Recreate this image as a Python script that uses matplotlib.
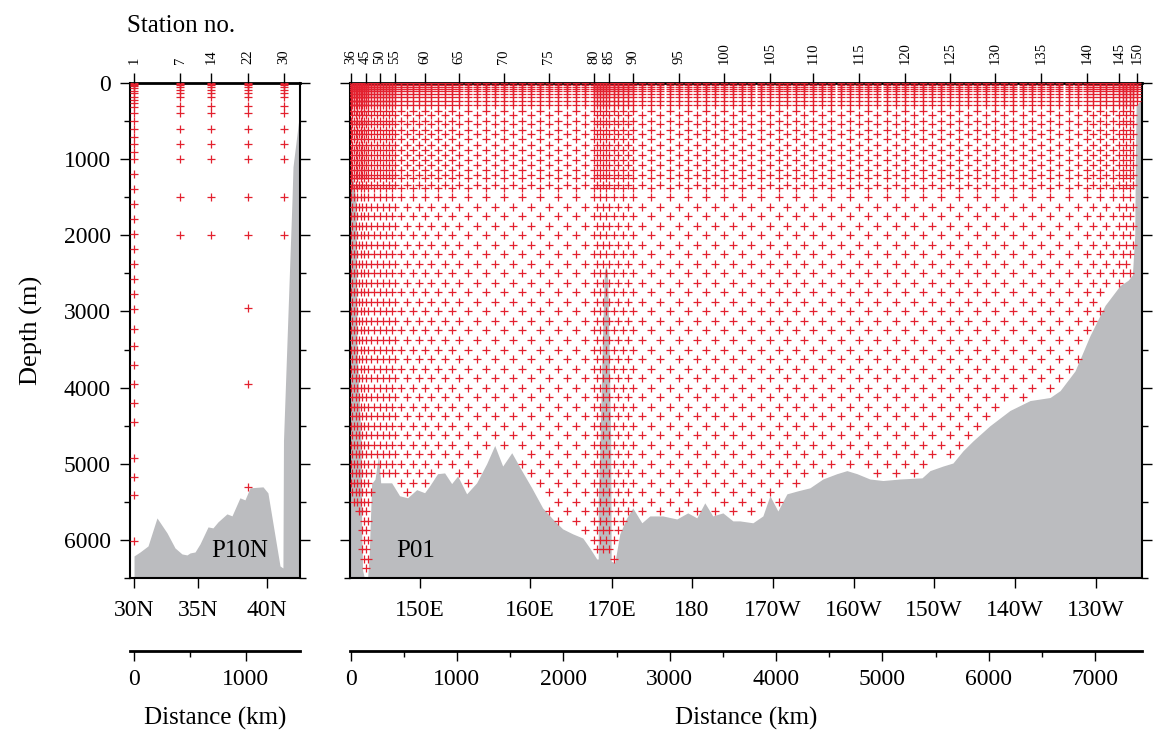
import numpy as np
import matplotlib
matplotlib.use("Agg")
from matplotlib import pyplot as plt
from matplotlib.ticker import MultipleLocator

plt.rcParams['font.family'] = ['Liberation Serif', 'DejaVu Serif']

GRAY = '#bbbcbf'
RED = '#e3212f'
MAX_DEPTH = 6500

# ---------------- P10N (left section) ----------------
p10n_station_no = [1, 7, 14, 22, 30]
p10n_station_km = [0, 411, 688, 1018, 1339]
p10n_lat_label = ['30N', '35N', '40N']
p10n_lat_km = [0, 571, 1188]

# bottle depths (m)
p10n_st1_m = [0, 10, 20, 40, 66, 105, 130, 184, 224, 263, 316, 395, 500, 605, 710, 800,
              910, 1000, 1200, 1390, 1592, 1789, 1987, 2184, 2382, 2578, 2776, 2974, 3224,
              3460, 3697, 3947, 4197, 4447, 4921, 5171, 5408, 6013]
p10n_upper_m = [0, 10, 25, 50, 90, 130, 184, 300, 395, 605, 800, 1000, 1500, 2000]
p10n_st22_deep_m = [2960, 3950, 5300]

p10n_bottom_km = [0, 54, 125, 205, 295, 366, 428, 473, 500, 545, 589, 661, 705, 750, 830,
                  875, 946, 991, 1036, 1152, 1196, 1304, 1330, 1335, 1411, 1420, 1470, 1482]
p10n_bottom_m = [6210, 6158, 6079, 5711, 5908, 6105, 6184, 6197, 6171, 6158, 6053, 5829,
                 5842, 5763, 5658, 5684, 5447, 5474, 5316, 5303, 5382, 6342, 6368, 4700,
                 1540, 1100, 500, 300]

# ---------------- P01 (right section) ----------------
p01_tick_no = [36, 45, 50, 55, 60, 65, 70, 75, 80, 85, 90, 95, 100, 105, 110, 115, 120,
               125, 130, 135, 140, 145, 150]
p01_tick_km = [0, 141, 273, 414, 696, 1016, 1439, 1863, 2286, 2427, 2653, 3086, 3509,
               3942, 4346, 4779, 5212, 5635, 6058, 6491, 6924, 7225, 7394]

# station positions, stations 36..150
p01_station_km = [
    0, 16, 31, 47, 63, 78, 94, 110, 125, 141,
    167, 194, 220, 247, 273,
    301, 330, 358, 386, 414,
    470, 527, 583, 640, 696,
    760, 824, 888, 952, 1016,
    1101, 1185, 1270, 1354, 1439,
    1524, 1609, 1693, 1778, 1863,
    1948, 2032, 2117, 2201, 2286,
    2314, 2342, 2371, 2399, 2427,
    2472, 2517, 2563, 2608, 2653,
    2740, 2826, 2913, 2999, 3086,
    3171, 3255, 3340, 3424, 3509,
    3596, 3682, 3769, 3855, 3942,
    4023, 4104, 4184, 4265, 4346,
    4433, 4519, 4606, 4692, 4779,
    4866, 4952, 5039, 5125, 5212,
    5297, 5381, 5466, 5550, 5635,
    5720, 5804, 5889, 5973, 6058,
    6145, 6231, 6318, 6404, 6491,
    6578, 6664, 6751, 6837, 6924,
    6984, 7044, 7105, 7165, 7225,
    7259, 7293, 7326, 7360, 7394,
]

# bottle depth sets, alternating between neighbouring stations
p01_levels_a = [0, 20, 50, 75, 110, 150, 190, 240, 290, 370, 500, 620, 740, 880, 1010,
                1145, 1250, 1380, 1500, 1750, 2000, 2250, 2500, 2750, 3000, 3250, 3500,
                3750, 4000, 4250, 4500, 4750, 5000, 5250, 5500, 5750, 6000, 6250]
p01_levels_b = [0, 20, 50, 75, 110, 150, 190, 240, 290, 420, 540, 670, 815, 950, 1080,
                1210, 1340, 1625, 1875, 2125, 2375, 2625, 2875, 3125, 3375, 3625, 3875,
                4125, 4375, 4625, 4875, 5125, 5375, 5625, 5875, 6125, 6375]

p01_bottom_km = [0, 60, 100, 113, 130, 160, 175, 198, 230, 245, 263, 283, 301, 386, 461,
                 536, 621, 696, 743, 818, 884, 950, 1007, 1091, 1185, 1279, 1355, 1430,
                 1515, 1609, 1703, 1806, 1900, 1994, 2088, 2183, 2248, 2314, 2400, 2484,
                 2531, 2596, 2653, 2738, 2813, 2935, 3067, 3170, 3255, 3330, 3405, 3500,
                 3594, 3659, 3782, 3876, 3942, 4017, 4102, 4205, 4318, 4440, 4572, 4666,
                 4760, 4882, 5005, 5165, 5372, 5447, 5569, 5663, 5757, 5851, 6011, 6199,
                 6388, 6576, 6670, 6811, 6952, 7093, 7234, 7310, 7350, 7372, 7378, 7385,
                 7441]
p01_bottom_m = [5500, 5700, 5800, 6400, 6500, 6500, 6200, 5260, 5200, 5050, 4890, 5250,
                5250, 5250, 5420, 5447, 5340, 5380, 5290, 5130, 5120, 5260, 5160, 5395,
                5250, 5000, 4760, 5030, 4855, 5090, 5316, 5580, 5725, 5855, 5920, 5975,
                6105, 6250, 6250, 6300, 5920, 5710, 5580, 5775, 5685, 5685, 5725, 5645,
                5710, 5513, 5685, 5645, 5750, 5750, 5775, 5685, 5420, 5620, 5395, 5355,
                5316, 5200, 5130, 5090, 5130, 5200, 5220, 5200, 5185, 5090, 5030, 4990,
                4830, 4700, 4500, 4300, 4170, 4130, 4040, 3780, 3315, 2920, 2660, 2590,
                2520, 2000, 1000, 300, 200]

# narrow seamount near 170E and the steep western wall
p01_ridge_km = [2333, 2333, 2350, 2370, 2390, 2405, 2420, 2436, 2450, 2455]
p01_ridge_m = [6500, 5500, 4700, 3500, 2500, 2400, 2500, 3500, 4700, 6500]
p01_wall_km = [0, 20, 56, 66, 103, 108, 112, 0]
p01_wall_m = [1000, 1200, 1550, 3500, 4700, 5600, 6500, 6500]

p01_lon_label = ['150E', '160E', '170E', '180', '170W', '160W', '150W', '140W', '130W']
p01_lon_km = [649, 1684, 2455, 3208, 3970, 4732, 5484, 6246, 7008]

depth_ticks = [0, 1000, 2000, 3000, 4000, 5000, 6000]

# ---------------- figure ----------------
fig = plt.figure(figsize=(11.68, 7.35), dpi=100)
ax_l = fig.add_axes([0.1113, 0.2136, 0.1455, 0.6735])
ax_r = fig.add_axes([0.2997, 0.2136, 0.6781, 0.6735])


def style_section(ax, xlim, labels_left, st_km, st_no):
    ax.set_xlim(*xlim)
    ax.set_ylim(MAX_DEPTH, 0)
    ax.set_yticks(depth_ticks)
    ax.yaxis.set_minor_locator(MultipleLocator(500))
    ax.tick_params(axis='y', which='both', direction='out', left=True, right=True,
                   labelleft=labels_left, labelsize=17, pad=7, width=1)
    ax.tick_params(axis='y', which='major', length=7)
    ax.tick_params(axis='y', which='minor', length=4)
    ax.tick_params(axis='x', direction='out', length=7, width=1, labelsize=17, pad=9)
    for s in ax.spines.values():
        s.set_linewidth(1.5)
    ax.spines['top'].set_linewidth(2)

    # station numbers along the top
    top = ax.twiny()
    top.set_xlim(ax.get_xlim())
    for s in top.spines.values():
        s.set_visible(False)
    top.set_xticks(st_km)
    top.set_xticklabels([str(n) for n in st_no], fontsize=10.5, rotation=90)
    top.tick_params(axis='x', direction='out', length=7, width=1, pad=7)
    return top


# left section
ax_l.fill_between(p10n_bottom_km, p10n_bottom_m, MAX_DEPTH, color=GRAY, lw=0, zorder=1)
xs, ys = [], []
for no, km in zip(p10n_station_no, p10n_station_km):
    if no == 1:
        depths = p10n_st1_m
    elif no == 22:
        depths = p10n_upper_m + p10n_st22_deep_m
    else:
        depths = p10n_upper_m
    xs += [km] * len(depths)
    ys += depths
ax_l.plot(xs, ys, '+', color=RED, ms=5.5, mew=0.9, zorder=3)
style_section(ax_l, (-36, 1482), True, p10n_station_km, p10n_station_no)
ax_l.set_xticks(p10n_lat_km, p10n_lat_label)
ax_l.text(690, 6230, 'P10N', fontsize=18)

# right section
ax_r.fill_between(p01_bottom_km, p01_bottom_m, MAX_DEPTH, color=GRAY, lw=0, zorder=1)
ax_r.fill(p01_ridge_km, p01_ridge_m, color=GRAY, lw=0, zorder=1)
ax_r.fill(p01_wall_km, p01_wall_m, color=GRAY, lw=0, zorder=1)
xs, ys = [], []
for i, km in enumerate(p01_station_km):
    levels = p01_levels_a if i % 2 == 0 else p01_levels_b
    floor = np.interp(km, p01_bottom_km, p01_bottom_m)
    depths = [d for d in levels if d <= floor - 40]
    xs += [km] * len(depths)
    ys += depths
ax_r.plot(xs, ys, '+', color=RED, ms=5.5, mew=0.9, zorder=3)
style_section(ax_r, (-5, 7441), False, p01_tick_km, p01_tick_no)
ax_r.set_xticks(p01_lon_km, p01_lon_label)
ax_r.text(430, 6230, 'P01', fontsize=18)

# distance scales under each section
for ax, ticks, minor in [(ax_l, [0, 1000], [500]),
                         (ax_r, list(range(0, 8000, 1000)), list(range(500, 7500, 1000)))]:
    pos = ax.get_position()
    d = fig.add_axes([pos.x0, 0.1143, pos.width, 0.001])
    d.set_xlim(ax.get_xlim())
    d.set_yticks([])
    for side in ['left', 'right', 'top']:
        d.spines[side].set_visible(False)
    d.spines['bottom'].set_linewidth(2)
    d.set_xticks(ticks)
    d.set_xticks(minor, minor=True)
    d.tick_params(axis='x', which='major', direction='out', length=7, width=1,
                  labelsize=17, pad=6)
    d.tick_params(axis='x', which='minor', direction='out', length=4, width=1)
    d.set_xlabel('Distance (km)', fontsize=18, labelpad=12)
    d.patch.set_visible(False)

fig.text(0.155, 0.965, 'Station no.', fontsize=18, ha='center', va='center')
fig.text(0.027, 0.55, 'Depth (m)', fontsize=19, rotation=90, ha='center', va='center')

fig.savefig('out.png', dpi=100)
